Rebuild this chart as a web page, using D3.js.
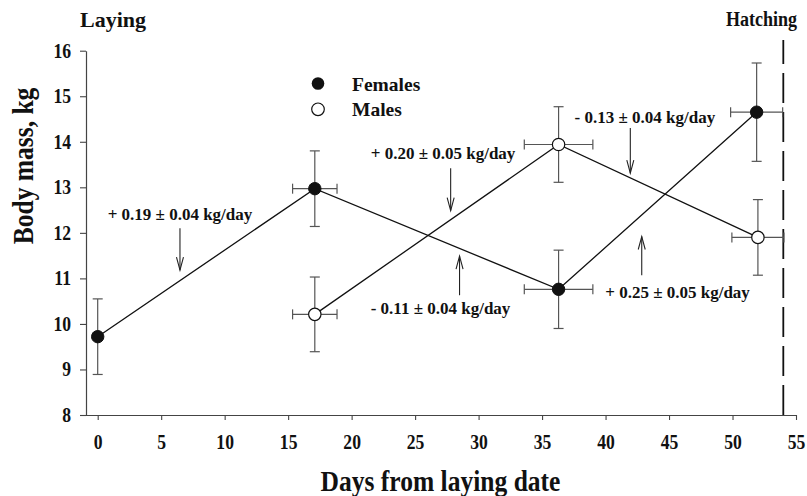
<!DOCTYPE html>
<html>
<head>
<meta charset="utf-8">
<script src="https://cdn.jsdelivr.net/npm/d3@7"></script>
<style>
  body { margin: 0; background: #fff; }
  svg text { font-family: "Liberation Serif", "Times New Roman", serif; font-weight: bold; fill: #111; }
</style>
</head>
<body>
<svg id="chart" width="807" height="496"></svg>
<script>
'use strict';

// Days from laying date (x) and body mass in kg (y), with SE both ways
const femaleDays = [0, 17.1, 36.3, 51.9];
const femaleDaysSE = [0, 1.75, 2.7, 2.05];
const femaleMass = [9.72, 12.97, 10.76, 14.65];
const femaleMassSE = [0.83, 0.83, 0.86, 1.08];

const maleDays = [17.1, 36.3, 52.0];
const maleDaysSE = [1.75, 2.7, 2.05];
const maleMass = [10.21, 13.94, 11.90];
const maleMassSE = [0.82, 0.83, 0.83];

const xTicks = [0, 5, 10, 15, 20, 25, 30, 35, 40, 45, 50, 55];
const yTicks = [8, 9, 10, 11, 12, 13, 14, 15, 16];
const hatchingDay = 54;

// Rate labels: text anchor (day, kg) and arrow (day, from kg, to kg)
const rateLabels = ['+ 0.19 ± 0.04 kg/day', '+ 0.20 ± 0.05 kg/day', '- 0.11 ± 0.04 kg/day', '- 0.13 ± 0.04 kg/day', '+ 0.25 ± 0.05 kg/day'];
const rateTextDay = [6.48, 27.2, 27.0, 43.1, 45.67];
const rateTextMass = [12.41, 13.75, 10.34, 14.55, 10.69];
const rateArrowDay = [6.48, 27.8, 28.5, 41.95, 42.85];
const rateArrowFrom = [12.1, 13.42, 10.63, 14.30, 11.07];
const rateArrowTo = [11.18, 12.49, 11.49, 13.31, 11.92];

const svg = d3.select('#chart');

const x = d3.scaleLinear().domain([-1, 55]).range([85, 796]);
const y = d3.scaleLinear().domain([8, 16]).range([415, 50.7]);

// The figure's type is a narrow bold Times: squeeze the glyphs sideways
function condense(sel, factor) {
  sel.each(function () {
    const len = this.getComputedTextLength();
    d3.select(this)
      .attr('textLength', len * factor)
      .attr('lengthAdjust', 'spacingAndGlyphs');
  });
}

// Axes
const xAxis = svg.append('g')
  .attr('transform', `translate(0, ${y(8)})`)
  .call(d3.axisBottom(x).tickValues(xTicks).tickSize(5).tickSizeOuter(0).tickPadding(15));
const yAxis = svg.append('g')
  .attr('transform', `translate(${x(-1) + 1}, 0)`)
  .call(d3.axisLeft(y).tickValues(yTicks).tickSize(6).tickSizeOuter(0).tickPadding(9));

[xAxis, yAxis].forEach(g => {
  g.select('.domain').attr('stroke', '#444').attr('stroke-width', 1.2);
  g.selectAll('.tick line').attr('stroke', '#444').attr('stroke-width', 1.1);
  g.selectAll('.tick text').style('font-size', '20px').attr('fill', '#111').call(condense, 0.88);
});

// Axis titles
svg.append('text')
  .attr('x', (x(-1) + x(55)) / 2)
  .attr('y', 491)
  .attr('text-anchor', 'middle')
  .style('font-size', '29px')
  .text('Days from laying date')
  .call(condense, 0.88);

svg.append('text')
  .attr('transform', `translate(33, 166) rotate(-90)`)
  .attr('text-anchor', 'middle')
  .style('font-size', '29px')
  .text('Body mass, kg')
  .call(condense, 0.88);

svg.append('text')
  .attr('x', 80).attr('y', 27)
  .style('font-size', '22px')
  .text('Laying');

svg.append('text')
  .attr('x', 797).attr('y', 26)
  .attr('text-anchor', 'end')
  .style('font-size', '20px')
  .text('Hatching')
  .call(condense, 0.9);

// Hatching date
svg.append('line')
  .attr('x1', x(hatchingDay)).attr('x2', x(hatchingDay))
  .attr('y1', y(8)).attr('y2', 40)
  .attr('stroke', '#111').attr('stroke-width', 1.8)
  .attr('stroke-dasharray', '30,9');

// Connecting lines
const line = d3.line().x(d => x(d[0])).y(d => y(d[1]));
const females = femaleDays.map((d, i) => [d, femaleMass[i], femaleDaysSE[i], femaleMassSE[i]]);
const males = maleDays.map((d, i) => [d, maleMass[i], maleDaysSE[i], maleMassSE[i]]);

[females, males].forEach(series => {
  svg.append('path')
    .datum(series)
    .attr('d', line)
    .attr('fill', 'none')
    .attr('stroke', '#111')
    .attr('stroke-width', 1.3);
});

// Error bars
const cap = 5;
function drawErrors(series) {
  const g = svg.append('g').attr('stroke', '#555').attr('stroke-width', 1.2);
  series.forEach(d => {
    const cx = x(d[0]), cy = y(d[1]);
    const top = y(d[1] + d[3]), bottom = y(d[1] - d[3]);
    g.append('line').attr('x1', cx).attr('x2', cx).attr('y1', top).attr('y2', bottom);
    g.append('line').attr('x1', cx - cap).attr('x2', cx + cap).attr('y1', top).attr('y2', top);
    g.append('line').attr('x1', cx - cap).attr('x2', cx + cap).attr('y1', bottom).attr('y2', bottom);
    if (d[2] > 0) {
      const left = x(d[0] - d[2]), right = x(d[0] + d[2]);
      g.append('line').attr('x1', left).attr('x2', right).attr('y1', cy).attr('y2', cy);
      g.append('line').attr('x1', left).attr('x2', left).attr('y1', cy - cap).attr('y2', cy + cap);
      g.append('line').attr('x1', right).attr('x2', right).attr('y1', cy - cap).attr('y2', cy + cap);
    }
  });
}
drawErrors(females);
drawErrors(males);

// Markers
svg.append('g').selectAll('circle')
  .data(females).enter().append('circle')
  .attr('cx', d => x(d[0])).attr('cy', d => y(d[1])).attr('r', 6.2)
  .attr('fill', '#111').attr('stroke', '#111');
svg.append('g').selectAll('circle')
  .data(males).enter().append('circle')
  .attr('cx', d => x(d[0])).attr('cy', d => y(d[1])).attr('r', 6.2)
  .attr('fill', '#fff').attr('stroke', '#111').attr('stroke-width', 1.2);

// Legend
const legend = svg.append('g');
legend.append('circle').attr('cx', 318).attr('cy', 83.5).attr('r', 6.3).attr('fill', '#111');
legend.append('circle').attr('cx', 318).attr('cy', 109.3).attr('r', 6.3)
  .attr('fill', '#fff').attr('stroke', '#111').attr('stroke-width', 1.2);
legend.append('text').attr('x', 352).attr('y', 90.5).style('font-size', '19.5px').text('Females');
legend.append('text').attr('x', 352).attr('y', 116).style('font-size', '19.5px').text('Males');

// Rate annotations with open arrows
const arrows = svg.append('g').attr('stroke', '#222').attr('stroke-width', 1.1).attr('fill', 'none');
rateLabels.forEach((label, i) => {
  svg.append('text')
    .attr('x', x(rateTextDay[i]))
    .attr('y', y(rateTextMass[i]))
    .attr('dy', '0.35em')
    .attr('text-anchor', 'middle')
    .style('font-size', '17px')
    .text(label);

  const ax = x(rateArrowDay[i]);
  const y0 = y(rateArrowFrom[i]), y1 = y(rateArrowTo[i]);
  const dir = y1 > y0 ? -1 : 1;
  arrows.append('line').attr('x1', ax).attr('x2', ax).attr('y1', y0).attr('y2', y1);
  arrows.append('path')
    .attr('d', `M${ax - 3.5},${y1 + dir * 13}L${ax},${y1}L${ax + 3.5},${y1 + dir * 13}`);
});
</script>
</body>
</html>
